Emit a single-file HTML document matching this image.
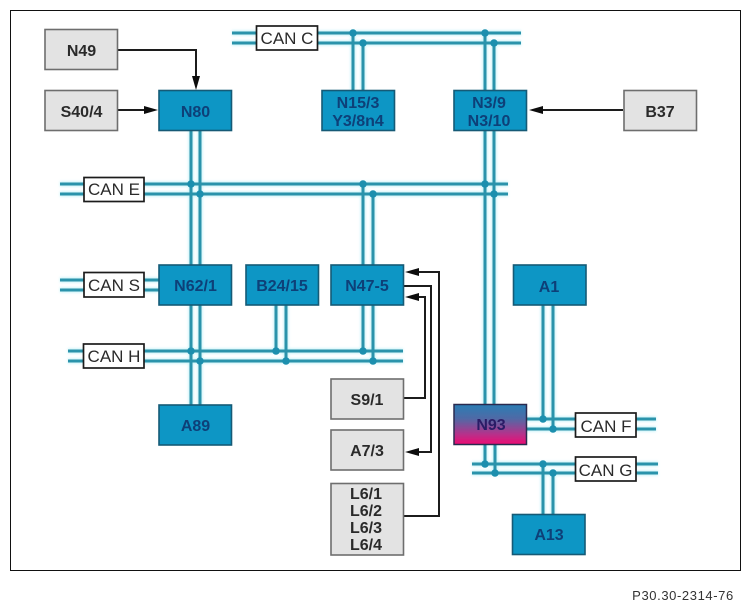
<!DOCTYPE html>
<html>
<head>
<meta charset="utf-8">
<style>
html,body{margin:0;padding:0;background:#fff;width:747px;height:607px;overflow:hidden}
svg{display:block}
text{font-family:"Liberation Sans",sans-serif;text-anchor:middle}
.b{fill:#0b96c5;stroke:#125a76;stroke-width:1.6}
.g{fill:#e3e3e3;stroke:#6e6e6e;stroke-width:1.6}
.bt{font-size:16px;font-weight:bold;fill:#0d3f78}
.gt{font-size:16px;font-weight:bold;fill:#2b2b2b}
.c{fill:#fff;stroke:#1a1a1a;stroke-width:1.7}
.ct{font-size:17px;fill:#2b2b2b}
.halo path{fill:none;stroke:#c4f3f8;stroke-width:5}
.w path{fill:none;stroke:#2a93ab;stroke-width:3}
.d circle{fill:#1f8fae}
.a path.l{fill:none;stroke:#1c1c1c;stroke-width:2}
.a path.h{fill:#111}
</style>
</head>
<body>
<svg width="747" height="607" viewBox="0 0 747 607" xmlns="http://www.w3.org/2000/svg">
<defs>
<linearGradient id="n93" x1="0" y1="0" x2="0" y2="1">
<stop offset="0" stop-color="#2a7db4"/>
<stop offset="0.35" stop-color="#4f6aa6"/>
<stop offset="0.75" stop-color="#b8308a"/>
<stop offset="1" stop-color="#ee0a72"/>
</linearGradient>
<filter id="soft" x="-5%" y="-5%" width="110%" height="110%"><feGaussianBlur stdDeviation="1.4"/></filter>
<filter id="s2" x="-5%" y="-5%" width="110%" height="110%"><feGaussianBlur stdDeviation="0.35"/></filter>
</defs>
<rect x="10.5" y="10.5" width="730" height="560" fill="#fff" stroke="#111" stroke-width="1"/>

<g class="halo" filter="url(#soft)">
<path d="M232 33H521M232 43H521M60 184H508M60 194H508M60 280H159M60 290H159M68 351H403M68 361H403M526 419H656M526 429H656M472 464H658M472 473H658"/>
<path d="M191 130V405M200 130V405M353 33V90M363 43V90M485 33V404M494 43V404M363 184V351M373 194V361M276 305V351M286 305V361M543 305V419M553 305V429M485 444V464M495 444V473M543 464V514M553 473V514"/>
</g>
<g filter="url(#s2)">
<g class="w">
<path d="M232 33H521M232 43H521M60 184H508M60 194H508M60 280H159M60 290H159M68 351H403M68 361H403M526 419H656M526 429H656M472 464H658M472 473H658"/>
<path d="M191 130V405M200 130V405M353 33V90M363 43V90M485 33V404M494 43V404M363 184V265M373 194V265M363 305V351M373 305V361M276 305V351M286 305V361M543 305V419M553 305V429M485 444V464M495 444V473M543 464V514M553 473V514"/>
</g>
<g class="d">
<circle cx="353" cy="33" r="3.8"/><circle cx="363" cy="43" r="3.8"/>
<circle cx="485" cy="33" r="3.8"/><circle cx="494" cy="43" r="3.8"/>
<circle cx="191" cy="184" r="3.8"/><circle cx="200" cy="194" r="3.8"/>
<circle cx="363" cy="184" r="3.8"/><circle cx="373" cy="194" r="3.8"/>
<circle cx="485" cy="184" r="3.8"/><circle cx="494" cy="194" r="3.8"/>
<circle cx="191" cy="351" r="3.8"/><circle cx="200" cy="361" r="3.8"/>
<circle cx="276" cy="351" r="3.8"/><circle cx="286" cy="361" r="3.8"/>
<circle cx="363" cy="351" r="3.8"/><circle cx="373" cy="361" r="3.8"/>
<circle cx="543" cy="419" r="3.8"/><circle cx="553" cy="429" r="3.8"/>
<circle cx="485" cy="464" r="3.8"/><circle cx="495" cy="473" r="3.8"/>
<circle cx="543" cy="464" r="3.8"/><circle cx="553" cy="473" r="3.8"/>
</g>

<g class="a">
<path class="l" d="M118 50H196V82M118 110H150M623 110H536M403 516H439V272H412M403 398H425V297H412M403 286H431V452H412"/>
<path class="h" d="M196 90L192 76H200ZM158 110L144 106V114ZM529 110L543 106V114ZM405 272L419 268V276ZM405 297L419 293V301ZM405 452L419 448V456Z"/>
</g>

<rect class="g" x="45" y="29.500" width="72.500" height="40"/>
<rect class="g" x="45" y="90.500" width="72.500" height="40"/>
<rect class="g" x="624" y="90.500" width="72.500" height="40"/>
<rect class="g" x="331" y="379" width="72.500" height="40"/>
<rect class="g" x="331" y="430" width="72.500" height="40"/>
<rect class="g" x="331" y="483.500" width="72.500" height="71.500"/>

<rect class="b" x="159" y="90.500" width="72.500" height="40"/>
<rect class="b" x="322" y="90.500" width="72.500" height="40"/>
<rect class="b" x="454" y="90.500" width="72.500" height="40"/>
<rect class="b" x="159" y="265" width="72.500" height="40"/>
<rect class="b" x="246" y="265" width="72.500" height="40"/>
<rect class="b" x="331" y="265" width="72.500" height="40"/>
<rect class="b" x="513.500" y="265" width="72.500" height="40"/>
<rect class="b" x="159" y="405" width="72.500" height="40"/>
<rect class="b" x="512.500" y="514.500" width="72.500" height="40"/>
<rect x="454" y="404.500" width="72.500" height="40" fill="url(#n93)" stroke="#2a2a50" stroke-width="1.500"/>

<rect class="c" x="256.500" y="26" width="61" height="24"/>
<rect class="c" x="84" y="177.500" width="60" height="24"/>
<rect class="c" x="84" y="272.500" width="60" height="24.500"/>
<rect class="c" x="83.500" y="344" width="60.500" height="24"/>
<rect class="c" x="575.500" y="413" width="60.500" height="24"/>
<rect class="c" x="575.500" y="457" width="60.500" height="24"/>

<text class="gt" x="81.500" y="56">N49</text>
<text class="gt" x="81.500" y="117">S40/4</text>
<text class="gt" x="660" y="117">B37</text>
<text class="gt" x="367" y="405">S9/1</text>
<text class="gt" x="367" y="456">A7/3</text>
<text class="gt" x="366" y="499">L6/1</text>
<text class="gt" x="366" y="516">L6/2</text>
<text class="gt" x="366" y="533">L6/3</text>
<text class="gt" x="366" y="550">L6/4</text>

<text class="bt" x="195.500" y="117">N80</text>
<text class="bt" x="358" y="108">N15/3</text>
<text class="bt" x="358" y="126">Y3/8n4</text>
<text class="bt" x="489" y="108">N3/9</text>
<text class="bt" x="489" y="126">N3/10</text>
<text class="bt" x="195.500" y="291">N62/1</text>
<text class="bt" x="282" y="291">B24/15</text>
<text class="bt" x="367" y="291">N47-5</text>
<text class="bt" x="549" y="292">A1</text>
<text class="bt" x="195.500" y="431">A89</text>
<text class="bt" x="549" y="540">A13</text>
<text class="bt" x="491" y="430" style="fill:#2a1a66">N93</text>

<text class="ct" x="287" y="44">CAN C</text>
<text class="ct" x="114" y="195">CAN E</text>
<text class="ct" x="114" y="291">CAN S</text>
<text class="ct" x="114" y="362">CAN H</text>
<text class="ct" x="606" y="432">CAN F</text>
<text class="ct" x="605.500" y="476">CAN G</text>
</g>

<text x="683" y="600" style="font-size:13px;fill:#333;letter-spacing:0.6px">P30.30-2314-76</text>
</svg>
</body>
</html>
